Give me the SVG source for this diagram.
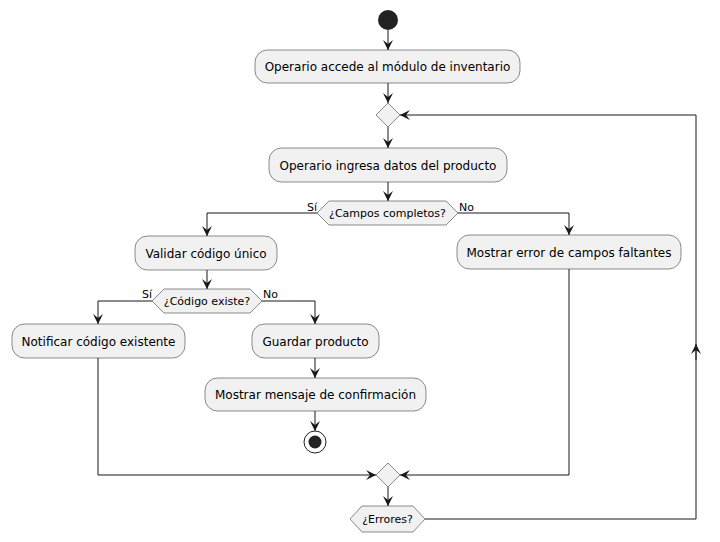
<svg xmlns="http://www.w3.org/2000/svg" width="720" height="542" viewBox="0 0 720 542">
  <style>
    .act { fill: #F1F1F1; stroke: #181818; stroke-width: 0.5; }
    .dec { fill: #F1F1F1; stroke: #181818; stroke-width: 0.5; }
    .txt { font-family: "DejaVu Sans", "Liberation Sans", sans-serif; font-size: 12px; fill: #000; text-anchor: middle; }
    .small { font-family: "DejaVu Sans", "Liberation Sans", sans-serif; font-size: 11px; fill: #000; }
    .edge { fill: none; stroke: #181818; stroke-width: 1; marker-end: url(#arrow); }
    .plain { fill: none; stroke: #181818; stroke-width: 1; }
  </style>
  <defs>
    <marker id="arrow" markerUnits="userSpaceOnUse" markerWidth="10" markerHeight="10" refX="10" refY="5" orient="auto">
      <path d="M0,0 L10,5 L0,10 L4,5 Z" fill="#181818"/>
    </marker>
  </defs>

  <g id="connectors">
    <path class="edge" d="M388,30 L388,50"/>
    <path class="edge" d="M388,83 L388,103"/>
    <path class="edge" d="M388,127 L388,148"/>
    <path class="edge" d="M388,182 L388,201"/>
    <!-- ¿Campos completos? branches -->
    <path class="edge" d="M317,213 L207,213 L207,236"/>
    <path class="edge" d="M458,213 L569,213 L569,235"/>
    <path class="edge" d="M207,270 L207,289"/>
    <!-- ¿Código existe? branches -->
    <path class="edge" d="M152,301 L98,301 L98,324"/>
    <path class="edge" d="M262,301 L315,301 L315,324"/>
    <path class="edge" d="M315,358 L315,378"/>
    <path class="edge" d="M315,411 L315,431"/>
    <!-- merge -->
    <path class="edge" d="M98,358 L98,475 L376,475"/>
    <path class="edge" d="M569,269 L569,475 L400,475"/>
    <path class="edge" d="M388,487 L388,506"/>
    <!-- loop back -->
    <path class="plain" d="M425,519 L696,519 L696,115"/>
    <path class="edge" d="M696,360 L696,344"/>
    <path class="edge" d="M696,115 L400,115"/>
  </g>

  <g id="start">
    <circle cx="388" cy="20" r="10" fill="#222222"/>
  </g>

  <g id="accede">
    <rect class="act" x="255" y="50" width="265" height="33" rx="12.5"/>
    <text class="txt" x="387.5" y="71">Operario accede al módulo de inventario</text>
  </g>

  <g id="loop-merge">
    <polygon class="dec" points="388,103 400,115 388,127 376,115"/>
  </g>

  <g id="ingresa">
    <rect class="act" x="269" y="148" width="238" height="34" rx="12.5"/>
    <text class="txt" x="388" y="169.5">Operario ingresa datos del producto</text>
  </g>

  <g id="campos">
    <polygon class="dec" points="317,213 329,201 446,201 458,213 446,225 329,225"/>
    <text class="small" x="387.5" y="217" text-anchor="middle">¿Campos completos?</text>
    <text class="small" x="307" y="211">Sí</text>
    <text class="small" x="459" y="211">No</text>
  </g>

  <g id="validar">
    <rect class="act" x="135" y="236" width="142" height="34" rx="12.5"/>
    <text class="txt" x="206" y="257.5">Validar código único</text>
  </g>

  <g id="error-campos">
    <rect class="act" x="457" y="235" width="224" height="34" rx="12.5"/>
    <text class="txt" x="569" y="256.5">Mostrar error de campos faltantes</text>
  </g>

  <g id="codigo">
    <polygon class="dec" points="152,301 164,289 250,289 262,301 250,313 164,313"/>
    <text class="small" x="207" y="305" text-anchor="middle">¿Código existe?</text>
    <text class="small" x="142" y="298">Sí</text>
    <text class="small" x="263" y="298">No</text>
  </g>

  <g id="notificar">
    <rect class="act" x="12" y="324" width="173" height="34" rx="12.5"/>
    <text class="txt" x="98.5" y="345.5">Notificar código existente</text>
  </g>

  <g id="guardar">
    <rect class="act" x="252" y="324" width="127" height="34" rx="12.5"/>
    <text class="txt" x="315.5" y="345.5">Guardar producto</text>
  </g>

  <g id="confirmacion">
    <rect class="act" x="205" y="378" width="221" height="33" rx="12.5"/>
    <text class="txt" x="315.5" y="399">Mostrar mensaje de confirmación</text>
  </g>

  <g id="stop">
    <circle cx="315" cy="442" r="11" fill="none" stroke="#222222" stroke-width="1"/>
    <circle cx="315" cy="442" r="6.5" fill="#222222"/>
  </g>

  <g id="merge">
    <polygon class="dec" points="388,463 400,475 388,487 376,475"/>
  </g>

  <g id="errores">
    <polygon class="dec" points="350,519 362,506 413,506 425,519 413,532 362,532"/>
    <text class="small" x="387.5" y="523" text-anchor="middle">¿Errores?</text>
  </g>
</svg>
